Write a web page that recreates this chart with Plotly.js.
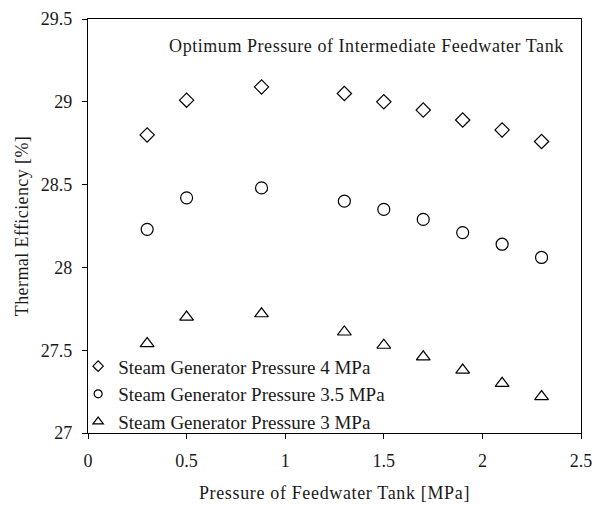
<!DOCTYPE html>
<html>
<head>
<meta charset="utf-8">
<script src="https://cdn.plot.ly/plotly-3.0.1.min.js"></script>
<style>
html,body{margin:0;padding:0;background:#fff;}
#chart{width:594px;height:505px;}
#chart .annotation-text{letter-spacing:0.55px;}
#chart .xtitle{letter-spacing:0.65px;}
#chart .ytitle{letter-spacing:0.4px;}
</style>
</head>
<body>
<div id="chart"></div>
<script>
const pressureFW = [0.3, 0.5, 0.88, 1.3, 1.5, 1.7, 1.9, 2.1, 2.3];
const eff4MPa = [28.80, 29.01, 29.09, 29.05, 29.00, 28.95, 28.89, 28.83, 28.76];
const eff35MPa = [28.23, 28.42, 28.48, 28.40, 28.35, 28.29, 28.21, 28.14, 28.06];
const eff3MPa = [27.54, 27.70, 27.72, 27.61, 27.53, 27.46, 27.38, 27.30, 27.22];
const seriesNames = ["Steam Generator Pressure 4 MPa", "Steam Generator Pressure 3.5 MPa", "Steam Generator Pressure 3 MPa"];
const xTicks = [0, 0.5, 1, 1.5, 2, 2.5];
const xTickText = ["0", "0.5", "1", "1.5", "2", "2.5"];
const yTicks = [27, 27.5, 28, 28.5, 29, 29.5];
const yTickText = ["27", "27.5", "28", "28.5", "29", "29.5"];

const FONT = "Liberation Serif, Times New Roman, serif";
const TXT = "#1a1a1a";
const mk = (sym, sz) => ({symbol: sym, size: sz, color: "#000", line: {color: "#000", width: 1.2}});
const symbols = ["diamond-open", "circle-open", "triangle-up-open"];
const sizes = [11, 12, 12];
const legendSizes = [8, 8, 9];
const data = [eff4MPa, eff35MPa, eff3MPa];

const traces = [];
data.forEach((ys, i) => {
  traces.push({x: pressureFW, y: ys, name: seriesNames[i], mode: "markers", type: "scatter",
               marker: mk(symbols[i], sizes[i]), showlegend: false});
});
// legend entries (smaller symbols, no plotted points)
data.forEach((ys, i) => {
  traces.push({x: [null], y: [null], name: seriesNames[i], mode: "markers", type: "scatter",
               marker: mk(symbols[i], legendSizes[i]), showlegend: true});
});

const layout = {
  width: 594, height: 505,
  margin: {l: 88, r: 13, t: 19, b: 72},
  paper_bgcolor: "#fff", plot_bgcolor: "#fff",
  font: {family: FONT, size: 18, color: TXT},
  showlegend: true,
  legend: {x: -0.02, y: -0.02, xanchor: "left", yanchor: "bottom", bgcolor: "rgba(0,0,0,0)",
           font: {family: FONT, size: 19, color: TXT}, itemwidth: 30, tracegroupgap: 0},
  xaxis: {range: [0, 2.5], tickvals: xTicks, ticktext: xTickText, ticks: "outside", ticklen: 5, tickcolor: "#000",
          ticklabelstandoff: 6,
          showline: true, linecolor: "#000", linewidth: 1.2, mirror: true, showgrid: false, zeroline: false,
          tickfont: {family: FONT, size: 18, color: TXT},
          title: {text: "Pressure of Feedwater Tank [MPa]", font: {family: FONT, size: 18, color: TXT}, standoff: 16}},
  yaxis: {range: [27, 29.5], tickvals: yTicks, ticktext: yTickText, ticks: "outside", ticklen: 5, tickcolor: "#000",
          ticklabelstandoff: 6,
          showline: true, linecolor: "#000", linewidth: 1.2, mirror: true, showgrid: false, zeroline: false,
          tickfont: {family: FONT, size: 18, color: TXT},
          title: {text: "Thermal Efficiency [%]", font: {family: FONT, size: 18, color: TXT}, standoff: 7}},
  annotations: [{text: "Optimum Pressure of Intermediate Feedwater Tank", xref: "paper", yref: "paper",
                 x: 0.565, y: 0.935, xanchor: "center", yanchor: "middle", showarrow: false,
                 font: {family: FONT, size: 18, color: TXT}}]
};

Plotly.newPlot("chart", traces, layout, {staticPlot: true, displayModeBar: false});
</script>
</body>
</html>
